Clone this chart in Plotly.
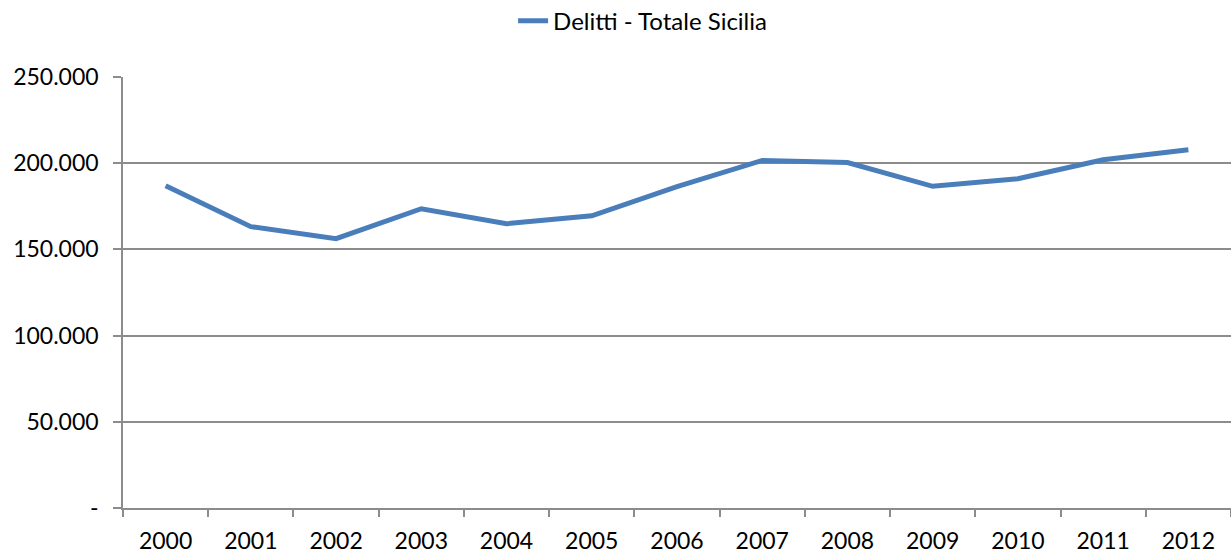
import plotly.graph_objects as go

years = ["2000", "2001", "2002", "2003", "2004", "2005", "2006",
         "2007", "2008", "2009", "2010", "2011", "2012"]
delitti = [186900, 163200, 156200, 173600, 164900, 169500, 186400,
           201600, 200400, 186600, 191000, 202000, 207800]
y_tickvals = [0, 50000, 100000, 150000, 200000, 250000]
y_ticktext = ["-", "50.000", "100.000", "150.000", "200.000", "250.000"]

FONT = "Lato, Carlito, 'Liberation Sans', sans-serif"
GRID = "#8c8c8c"

fig = go.Figure()
fig.add_trace(go.Scatter(
    x=years, y=delitti, mode="lines", name="Delitti - Totale Sicilia",
    line=dict(color="#4a7ebb", width=5),
))

fig.update_layout(
    width=1231, height=556,
    margin=dict(l=123, r=0, t=77, b=48, autoexpand=False),
    paper_bgcolor="white", plot_bgcolor="white",
    font=dict(family=FONT, size=23, color="black"),
    showlegend=True,
    legend=dict(orientation="h", x=0.522, xanchor="center", y=0.962, yanchor="middle",
                xref="container", yref="container",
                font=dict(family=FONT, size=24, color="black")),
    xaxis=dict(
        type="category", range=[-0.5, 12.5], automargin=False,
        showgrid=False, showline=True, linecolor=GRID, linewidth=1.5,
        ticks="outside", tickson="boundaries", ticklen=7, tickcolor=GRID, tickwidth=1.5,
        ticklabelstandoff=12,
        tickfont=dict(family=FONT, size=23, color="black"),
    ),
    yaxis=dict(
        range=[0, 250000], tickvals=y_tickvals, ticktext=y_ticktext, automargin=False,
        showgrid=True, gridcolor=GRID, gridwidth=1.5,
        showline=True, linecolor=GRID, linewidth=1.5,
        ticks="outside", ticklen=8, tickcolor=GRID, tickwidth=1.5,
        ticklabelstandoff=10, zeroline=False,
        tickfont=dict(family=FONT, size=23, color="black"),
    ),
)

fig.write_html("out.html", config={"displayModeBar": False},
               post_script="document.body.style.margin='0';document.body.style.overflow='hidden';")
